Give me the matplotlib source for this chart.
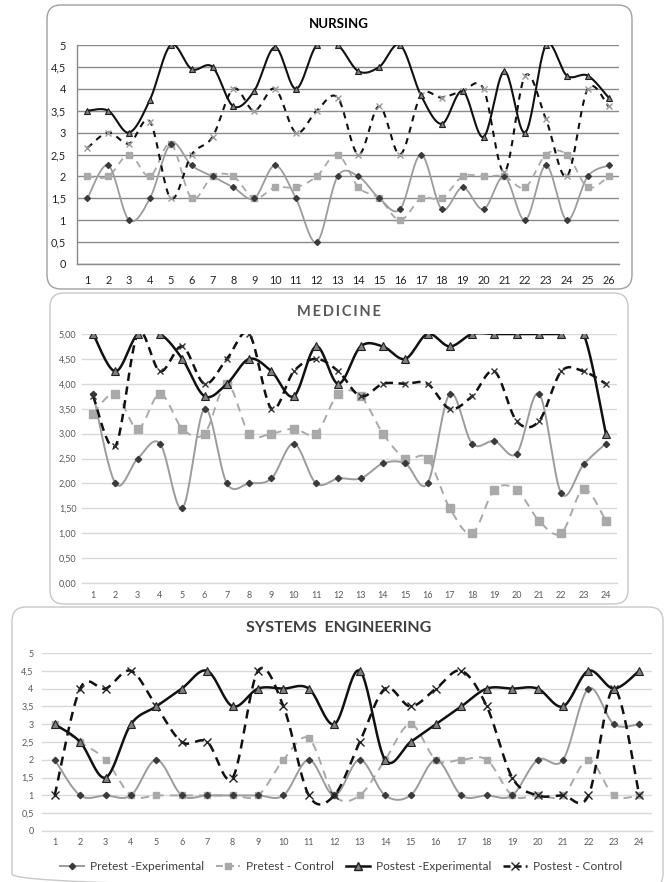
import numpy as np
import matplotlib
matplotlib.use("Agg")
import matplotlib.pyplot as plt
from matplotlib.patches import FancyBboxPatch
from matplotlib.lines import Line2D
from matplotlib.ticker import FixedLocator, FixedFormatter

plt.rcParams['font.family'] = ['Lato', 'DejaVu Sans']
plt.rcParams['lines.scale_dashes'] = False

# ---------------- DATA ----------------
series_names = ["Pretest -Experimental", "Pretest - Control",
                "Postest -Experimental", "Postest - Control"]

nursing_cats = [str(i) for i in range(1, 27)]
n_pre_exp = [1.5, 2.25, 1.0, 1.5, 2.75, 2.25, 2.0, 1.75, 1.5, 2.25, 1.5, 0.5, 2.0,
             2.0, 1.5, 1.25, 2.5, 1.25, 1.75, 1.25, 2.0, 1.0, 2.25, 1.0, 2.0, 2.25]
n_pre_ctl = [2.0, 2.0, 2.5, 2.0, 2.75, 1.5, 2.0, 2.0, 1.5, 1.75, 1.75, 2.0, 2.5,
             1.75, 1.5, 1.0, 1.5, 1.5, 2.0, 2.0, 2.0, 1.75, 2.5, 2.5, 1.75, 2.0]
n_post_exp = [3.5, 3.5, 3.0, 3.75, 5.0, 4.45, 4.5, 3.6, 3.95, 4.95, 4.0, 5.0, 5.0,
              4.4, 4.5, 5.0, 3.85, 3.2, 3.95, 2.9, 4.4, 3.0, 5.0, 4.3, 4.3, 3.8]
n_post_ctl = [2.65, 3.0, 2.75, 3.25, 1.5, 2.5, 2.9, 4.0, 3.5, 4.0, 3.0, 3.5, 3.8,
              2.5, 3.6, 2.5, 3.85, 3.8, 3.95, 4.0, 2.1, 4.3, 3.3, 2.0, 4.0, 3.6]
n_yticks = [0, 0.5, 1, 1.5, 2, 2.5, 3, 3.5, 4, 4.5, 5]
n_ylabels = ["0", "0,5", "1", "1,5", "2", "2,5", "3", "3,5", "4", "4,5", "5"]

medicine_cats = [str(i) for i in range(1, 25)]
m_pre_exp = [3.8, 2.0, 2.5, 2.8, 1.5, 3.5, 2.0, 2.0, 2.1, 2.8, 2.0, 2.1,
             2.1, 2.4, 2.4, 2.0, 3.8, 2.8, 2.85, 2.6, 3.8, 1.8, 2.38, 2.8]
m_pre_ctl = [3.4, 3.8, 3.1, 3.8, 3.1, 3.0, 4.0, 3.0, 3.0, 3.1, 3.0, 3.8,
             3.75, 3.0, 2.5, 2.5, 1.5, 1.0, 1.87, 1.87, 1.25, 1.0, 1.88, 1.25]
m_post_exp = [5.0, 4.25, 5.0, 5.0, 4.5, 3.75, 4.0, 4.5, 4.25, 3.75, 4.75, 4.0,
              4.75, 4.75, 4.5, 5.0, 4.75, 5.0, 5.0, 5.0, 5.0, 5.0, 5.0, 3.0]
m_post_ctl = [3.75, 2.75, 5.0, 4.25, 4.75, 4.0, 4.5, 5.0, 3.5, 4.25, 4.5, 4.25,
              3.75, 4.0, 4.0, 4.0, 3.5, 3.75, 4.25, 3.25, 3.25, 4.25, 4.25, 4.0]
m_yticks = [0, 0.5, 1, 1.5, 2, 2.5, 3, 3.5, 4, 4.5, 5]
m_ylabels = ["0,00", "0,50", "1,00", "1,50", "2,00", "2,50", "3,00", "3,50",
             "4,00", "4,50", "5,00"]

se_cats = [str(i) for i in range(1, 25)]
s_pre_exp = [2, 1, 1, 1, 2, 1, 1, 1, 1, 1, 2, 1, 2, 1, 1, 2, 1, 1, 1, 2, 2, 4, 3, 3]
s_pre_ctl = [3, 2.5, 2, 1, 1, 1, 1, 1, 1, 2, 2.6, 1, 1, 2, 3, 2, 2, 2, 1, 1, 1, 2, 1, 1]
s_post_exp = [3, 2.5, 1.5, 3, 3.5, 4, 4.5, 3.5, 4, 4, 4, 3, 4.5, 2, 2.5, 3, 3.5, 4,
              4, 4, 3.5, 4.5, 4, 4.5]
s_post_ctl = [1, 4, 4, 4.5, 3.5, 2.5, 2.5, 1.5, 4.5, 3.5, 1, 1, 2.5, 4, 3.5, 4, 4.5,
              3.5, 1.5, 1, 1, 1, 4, 1]
s_yticks = [0, 0.5, 1, 1.5, 2, 2.5, 3, 3.5, 4, 4.5, 5]
s_ylabels = ["0", "0,5", "1", "1,5", "2", "2,5", "3", "3,5", "4", "4,5", "5"]

# ---------------- HELPERS ----------------
W, H = 671, 882


def smooth(xs, ys, n=24, gaps=()):
    P = np.column_stack([np.asarray(xs, float), np.asarray(ys, float)])
    E = np.vstack([P[0], P, P[-1]])
    out = []
    for i in range(len(P) - 1):
        p0, p1, p2, p3 = E[i], E[i + 1], E[i + 2], E[i + 3]
        c1 = p1 + (p2 - p0) / 6.0
        c2 = p2 - (p3 - p1) / 6.0
        t = np.linspace(0, 1, n)[:, None]
        seg = ((1 - t) ** 3) * p1 + 3 * ((1 - t) ** 2) * t * c1 + \
            3 * (1 - t) * (t ** 2) * c2 + (t ** 3) * p2
        if i in gaps:
            seg = np.full_like(seg, np.nan)
        out.append(seg)
        out.append(np.array([[np.nan, np.nan]]) if i in gaps else seg[-1:])
    return np.vstack(out)


def px_axes(fig, left, top, right, bottom):
    return fig.add_axes([left / W, 1 - bottom / H, (right - left) / W, (bottom - top) / H])


fig = plt.figure(figsize=(W / 100, H / 100), dpi=100)
fig.patch.set_facecolor("white")

bg = fig.add_axes([0, 0, 1, 1])
bg.set_xlim(0, W)
bg.set_ylim(H, 0)
bg.axis("off")
bg.set_zorder(-5)

for (x0, y0, x1, y1, ec) in [(47, 5, 632, 289, "#a0a0a0"),
                              (50, 293, 628, 604, "#c8c8c8"),
                              (12, 607, 663, 888, "#c8c8c8")]:
    bg.add_patch(FancyBboxPatch((x0, y0), x1 - x0, y1 - y0,
                                boxstyle="round,pad=0,rounding_size=14",
                                fc="none", ec=ec, lw=1.0))

GRAY_SOLID = "#9c9c9c"
GRAY_DASH = "#a9a9a9"


def draw_panel(ax, cats, data, yticks, ylabels, style):
    x = np.arange(1, len(cats) + 1)
    pre_exp, pre_ctl, post_exp, post_ctl = data
    lw_b = style["lw_black"]
    lw_g = style["lw_gray"]
    # pretest control (gray dashed, squares)
    c = smooth(x, pre_ctl)
    ax.plot(c[:, 0], c[:, 1], color=GRAY_DASH, lw=lw_g, dashes=style["gdash"], zorder=2)
    ax.plot(x, pre_ctl, ls="none", marker="s", ms=style["ms_sq"], color=GRAY_DASH, zorder=3)
    # pretest experimental (gray solid, diamonds)
    c = smooth(x, pre_exp)
    ax.plot(c[:, 0], c[:, 1], color=GRAY_SOLID, lw=lw_g, zorder=2)
    ax.plot(x, pre_exp, ls="none", marker="D", ms=style["ms_d"], color="#3a3a3a", zorder=3)
    # postest control (black dashed, x)
    c = smooth(x, post_ctl)
    ax.plot(c[:, 0], c[:, 1], color="#111111", lw=lw_b, dashes=style["bdash"], zorder=4)
    ax.plot(x, post_ctl, ls="none", marker="x", ms=style["ms_x"], mew=1.0,
            color=style["xcol"], zorder=5)
    # postest experimental (black solid, triangles)
    c = smooth(x, post_exp, gaps=style.get("gaps", ()))
    ax.plot(c[:, 0], c[:, 1], color="#111111", lw=lw_b, zorder=4)
    ax.plot(x, post_exp, ls="none", marker="^", ms=style["ms_t"], mfc="#808080",
            mec="#202020", mew=0.8, zorder=5)

    ax.set_xlim(0.5, len(cats) + 0.5)
    ax.set_ylim(0, 5)
    ax.xaxis.set_major_locator(FixedLocator(x))
    ax.xaxis.set_major_formatter(FixedFormatter(cats))
    ax.yaxis.set_major_locator(FixedLocator(yticks))
    ax.yaxis.set_major_formatter(FixedFormatter(ylabels))
    ax.tick_params(length=0, labelsize=style["fs"], colors=style["tickcol"])
    ax.tick_params(axis="y", pad=style["ypad"])
    ax.tick_params(axis="x", pad=style["xpad"])
    ax.grid(axis="y", color=style["gridcol"], lw=style["gridlw"], zorder=0)
    ax.set_axisbelow(True)
    for s in ["top", "right"]:
        ax.spines[s].set_visible(False)
    ax.spines["bottom"].set_color(style["gridcol"])
    ax.spines["bottom"].set_linewidth(style["gridlw"])
    if style["leftspine"]:
        ax.spines["left"].set_color(style["gridcol"])
        ax.spines["left"].set_linewidth(style["gridlw"])
    else:
        ax.spines["left"].set_visible(False)
    ax.set_facecolor("none")
    for lab in ax.get_xticklabels() + ax.get_yticklabels():
        lab.set_color(style["tickcol"])


# ---- Nursing ----
ax1 = px_axes(fig, 77, 45, 619, 264)
draw_panel(ax1, nursing_cats, (n_pre_exp, n_pre_ctl, n_post_exp, n_post_ctl),
           n_yticks, n_ylabels,
           dict(lw_black=1.5, lw_gray=1.3, gdash=(5, 4), bdash=(4.5, 4),
                ms_sq=4.2, ms_d=3.0, ms_x=4.5, ms_t=5.0, xcol="#9a9a9a",
                fs=7.8, tickcol="#222222", ypad=8, xpad=8,
                gridcol="#8a8a8a", gridlw=1.0, leftspine=True))
bg.text(339, 24, "NURSING", ha="center", va="center", fontsize=9.5,
        fontweight="bold", color="#000000")

# ---- Medicine ----
ax2 = px_axes(fig, 82, 334, 617, 583)
draw_panel(ax2, medicine_cats, (m_pre_exp, m_pre_ctl, m_post_exp, m_post_ctl),
           m_yticks, m_ylabels,
           dict(lw_black=1.8, lw_gray=1.4, gdash=(6, 4.5), bdash=(6, 4),
                ms_sq=5.5, ms_d=3.2, ms_x=5.0, ms_t=5.5, xcol="#333333",
                fs=6.5, tickcol="#595959", ypad=4, xpad=6,
                gridcol="#d9d9d9", gridlw=1.0, leftspine=False, gaps=(21,)))
bg.text(339, 312, "M E D I C I N E".replace(" ", "\u2009"), ha="center", va="center",
        fontsize=10.5, fontweight="bold", color="#595959")

# ---- Systems Engineering ----
ax3 = px_axes(fig, 42, 653, 652, 831)
draw_panel(ax3, se_cats, (s_pre_exp, s_pre_ctl, s_post_exp, s_post_ctl),
           s_yticks, s_ylabels,
           dict(lw_black=1.8, lw_gray=1.4, gdash=(6, 4.5), bdash=(6.5, 4.5),
                ms_sq=5.0, ms_d=3.2, ms_x=5.5, ms_t=5.5, xcol="#222222",
                fs=6.5, tickcol="#595959", ypad=6, xpad=5,
                gridcol="#d9d9d9", gridlw=1.0, leftspine=False))
bg.text(339, 628, "SYSTEMS  ENGINEERING", ha="center", va="center",
        fontsize=11.5, fontweight="bold", color="#404040")

# ---- Legend ----
handles = [
    Line2D([], [], color=GRAY_SOLID, lw=1.4, marker="D", ms=3.2, mfc="#3a3a3a", mec="#3a3a3a"),
    Line2D([], [], color=GRAY_DASH, lw=1.4, dashes=(5, 3), marker="s", ms=5, mfc=GRAY_DASH, mec=GRAY_DASH),
    Line2D([], [], color="#111111", lw=1.8, marker="^", ms=5.5, mfc="#808080", mec="#202020"),
    Line2D([], [], color="#111111", lw=1.8, dashes=(5, 3), marker="x", ms=5.5, mec="#222222"),
]
leg = fig.legend(handles, series_names, loc="center", ncol=4,
                 bbox_to_anchor=(341 / W, 1 - 867 / H), frameon=False,
                 fontsize=8.6, handlelength=2.0, handletextpad=0.5,
                 columnspacing=1.0)
for t in leg.get_texts():
    t.set_color("#404040")

fig.savefig("out.png", dpi=100, facecolor="white")
